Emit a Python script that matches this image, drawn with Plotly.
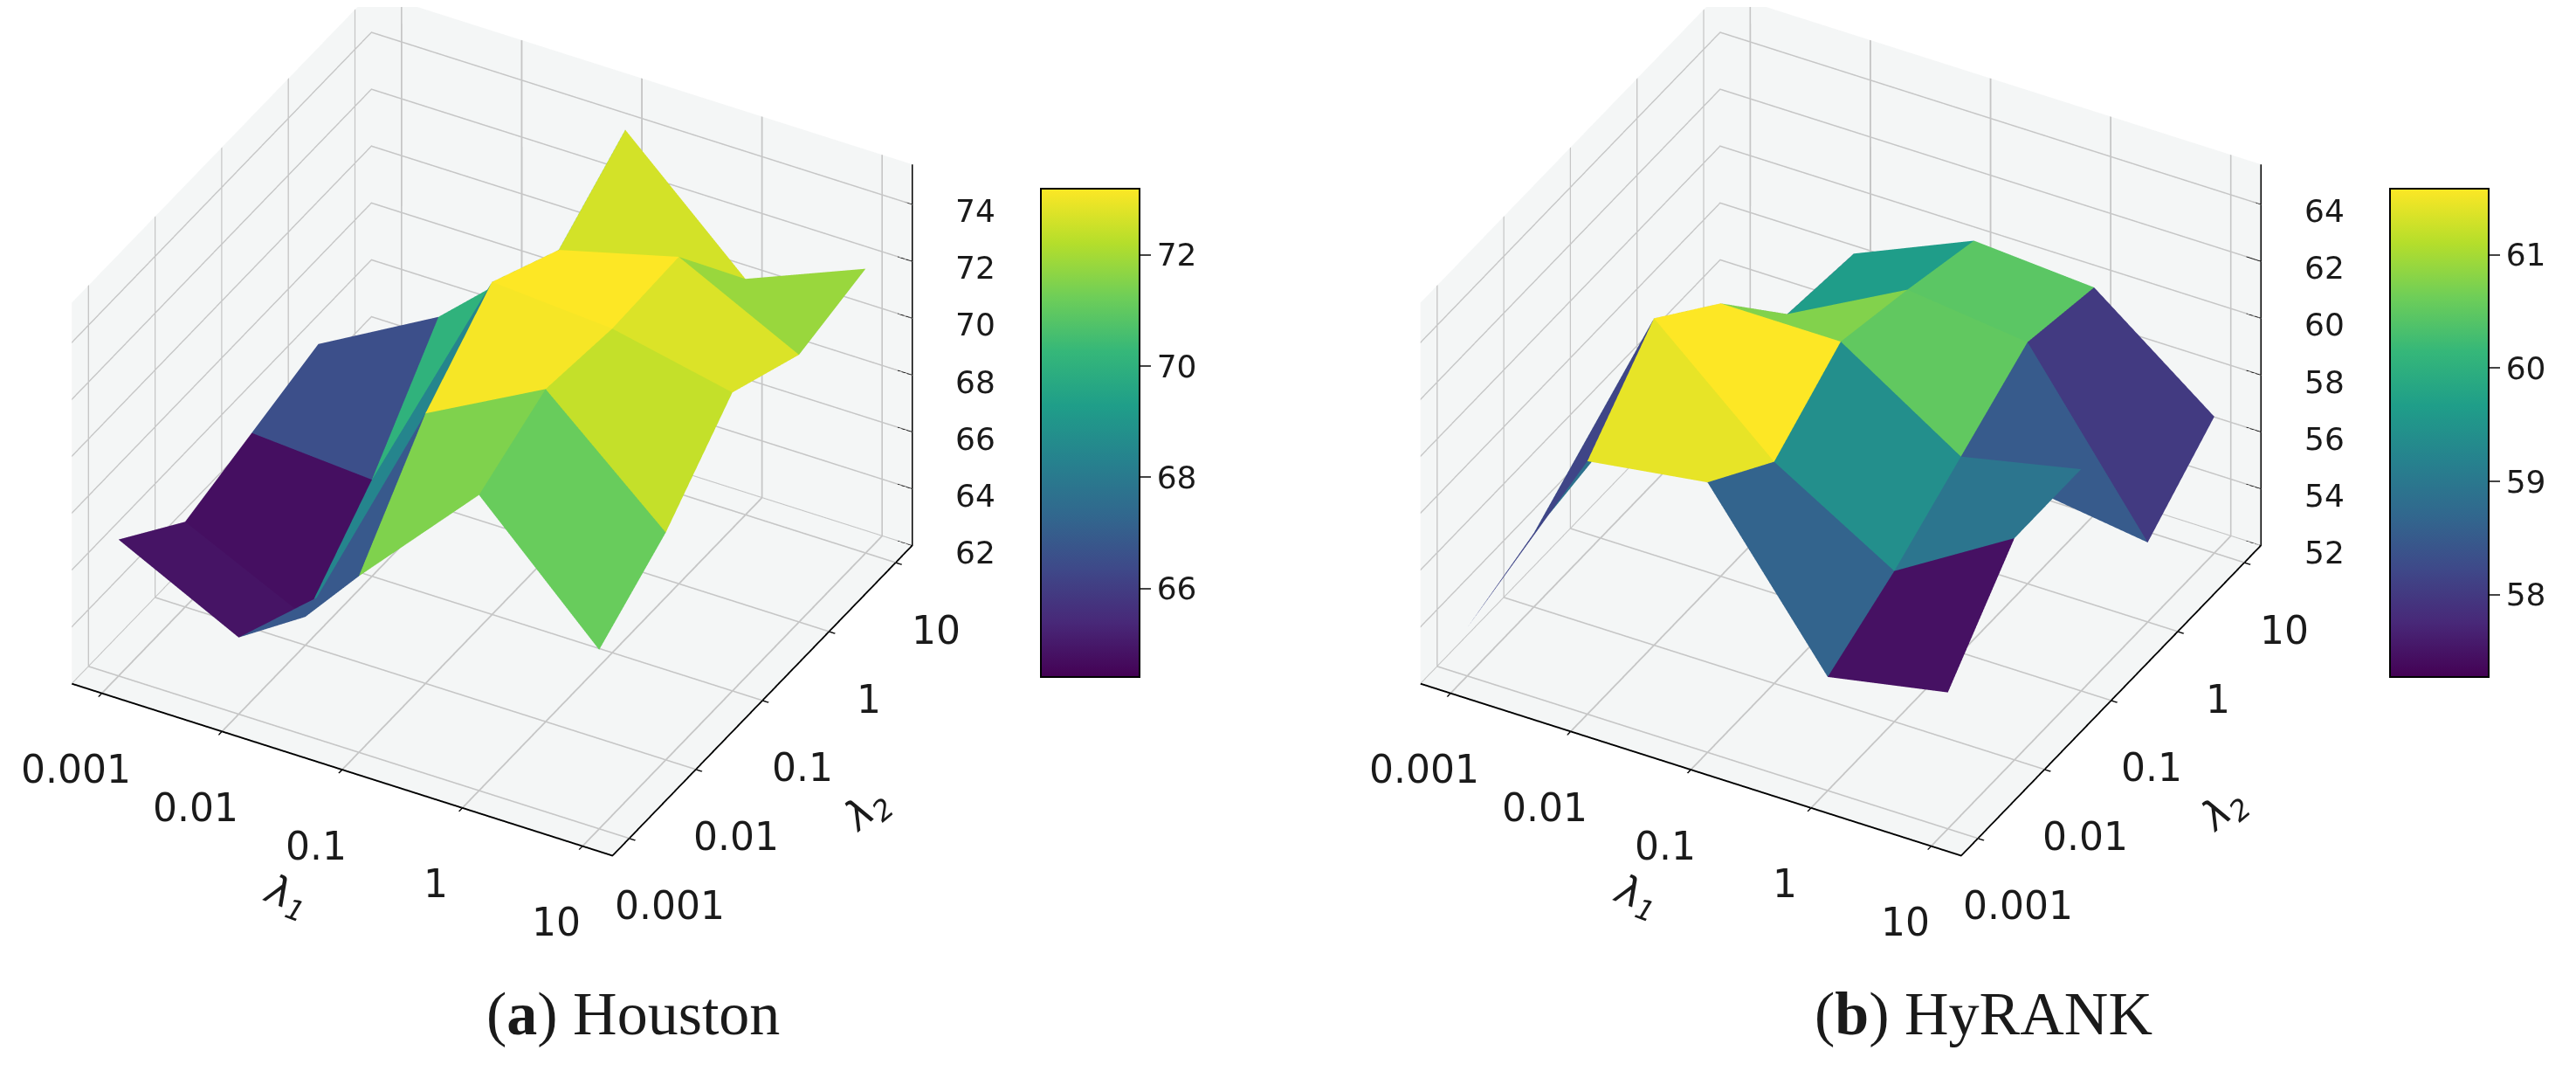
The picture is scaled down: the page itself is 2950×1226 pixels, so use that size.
import plotly.graph_objects as go
import numpy as np
import math

lambda_labels = ["0.001", "0.01", "0.1", "1", "10"]
grid_index = [0, 1, 2, 3, 4]

# rows: lambda_1, columns: lambda_2
houston = [
    [66.8, 65.0, 65.7, 66.4, 63.5],
    [64.7, 63.0, 65.4, 68.7, 63.5],
    [68.2, 71.5, 73.7, 72.4, 74.2],
    [72.4, 73.7, 73.4, 73.5, 70.3],
    [68.3, 70.0, 72.5, 71.4, 72.0],
]
hyrank = [
    [53.7, 54.6, 55.9, 52.6, 52.4],
    [60.9, 63.5, 61.6, 58.8, 58.5],
    [61.5, 59.8, 61.6, 61.0, 60.3],
    [56.0, 57.3, 58.9, 60.5, 60.0],
    [56.8, 59.8, 59.8, 54.8, 56.8],
]
houston_z_ticks = [62, 64, 66, 68, 70, 72, 74]
hyrank_z_ticks = [52, 54, 56, 58, 60, 62, 64]
houston_cbar_ticks = [66, 68, 70, 72]
hyrank_cbar_ticks = [58, 59, 60, 61]

W, H = 2950, 1226
TICK = "DejaVu Sans"
LO, HI = -0.25, 4.25
INK = "#1a1a1a"


def mesh(z_rows, cmin, cmax, scene, cbar_x, cbar_ticks):
    z = np.array(z_rows, float)
    n = len(grid_index)
    xs, ys, zs = [], [], []
    for a in range(n):
        for b in range(n):
            xs.append(grid_index[a]); ys.append(grid_index[b]); zs.append(z[a, b])
    ii, jj, kk, val = [], [], [], []
    for a in range(n - 1):
        for b in range(n - 1):
            p, q, r, s = a*n+b, (a+1)*n+b, (a+1)*n+b+1, a*n+b+1
            m = z[a:a+2, b:b+2].mean()
            # fold each cell along its lower diagonal
            if z[a, b] + z[a+1, b+1] <= z[a+1, b] + z[a, b+1]:
                ii += [p, p]; jj += [q, r]; kk += [r, s]
            else:
                ii += [p, q]; jj += [q, r]; kk += [s, s]
            val += [m, m]
    return go.Mesh3d(
        x=xs, y=ys, z=zs, i=ii, j=jj, k=kk, intensity=val, intensitymode="cell",
        colorscale="Viridis", cmin=cmin, cmax=cmax, flatshading=True, scene=scene,
        lighting=dict(ambient=1, diffuse=0, specular=0, roughness=1, fresnel=0),
        hoverinfo="skip",
        colorbar=dict(x=cbar_x/W, xanchor="left", y=0.602, yanchor="middle", len=559/H,
                      lenmode="fraction", thickness=113, thicknessmode="pixels",
                      tickvals=cbar_ticks, ticks="outside", ticklen=12, tickwidth=2,
                      outlinewidth=2, outlinecolor="black", xpad=0, ypad=0,
                      tickfont=dict(family=TICK, size=36, color=INK)),
    )


def z_axis(z_ticks, scene):
    zmin, zmax = z_ticks[0], z_ticks[0] + 13.4
    xs, ys, zs = [HI, HI, None], [HI, HI, None], [zmin, zmax, None]
    for t in z_ticks:
        xs += [HI - 0.12, HI, None]; ys += [HI, HI, None]; zs += [t, t, None]
    return go.Scatter3d(x=xs, y=ys, z=zs, mode="lines", scene=scene, showlegend=False,
                        line=dict(color="black", width=3), hoverinfo="skip")


def scene_annotations(z_ticks):
    out = []
    zmin = z_ticks[0]
    for v, t in zip(grid_index, lambda_labels):
        out.append(dict(x=v, y=LO, z=zmin, text=t, showarrow=False, xshift=-30, yshift=-87,
                        font=dict(family=TICK, size=44, color=INK)))
        out.append(dict(x=HI, y=v, z=zmin, text=t, showarrow=False, xshift=46, yshift=-77,
                        font=dict(family=TICK, size=44, color=INK)))
    for t in z_ticks:
        out.append(dict(x=HI, y=HI, z=t, text=str(t), showarrow=False, xshift=72, yshift=-8,
                        font=dict(family=TICK, size=36, color=INK)))
    return out


AZ, EL = math.radians(-61.0), math.radians(35)
SCALE = 1.155


def scene(domx, z_ticks, d, cz):
    ax = dict(showbackground=True, gridcolor="#c6c6c6", gridwidth=4, showline=True,
              linecolor="black", linewidth=4, ticks="outside", tickcolor="black",
              ticklen=8, tickwidth=3, zeroline=False, title=dict(text=""), showspikes=False,
              showticklabels=False, backgroundcolor="#f4f6f6")
    xy = dict(ax, tickvals=grid_index, range=[LO, HI])
    return dict(
        domain=dict(x=domx, y=[0.0, 1.0]),
        xaxis=xy,
        yaxis=xy,
        zaxis=dict(ax, tickvals=z_ticks, range=[z_ticks[0], z_ticks[0] + 13.4],
                   showline=False, ticks=""),
        aspectmode="manual", aspectratio=dict(x=SCALE, y=SCALE, z=0.752*SCALE),
        camera=dict(eye=dict(x=math.cos(EL)*math.cos(AZ)*d, y=math.cos(EL)*math.sin(AZ)*d,
                             z=math.sin(EL)*d + cz), up=dict(x=0, y=0, z=1),
                    center=dict(x=0, y=0, z=cz), projection=dict(type="orthographic")),
        annotations=scene_annotations(z_ticks),
    )


fig = go.Figure()
fig.add_trace(mesh(houston, 64.4, 73.18, "scene", 1184, houston_cbar_ticks))
fig.add_trace(z_axis(houston_z_ticks, "scene"))
fig.add_trace(mesh(hyrank, 57.27, 61.58, "scene2", 2729, hyrank_cbar_ticks))
fig.add_trace(z_axis(hyrank_z_ticks, "scene2"))


def label(x, y, text, angle=0, size=44, family=TICK):
    return dict(x=x/W, y=1-y/H, xref="paper", yref="paper", text=text, showarrow=False,
                textangle=angle, font=dict(family=family, size=size, color=INK),
                xanchor="center", yanchor="middle")


annotations = [
    label(319, 1018, "<i>λ<sub>1</sub></i>", 20, 46),
    label(984, 920, "<i>λ<sub>2</sub></i>", -40, 46),
    label(1865, 1018, "<i>λ<sub>1</sub></i>", 20, 46),
    label(2538, 920, "<i>λ<sub>2</sub></i>", -40, 46),
    label(717, 1152, "(<b>a</b>) Houston", 0, 70, "Liberation Serif"),
    label(2263, 1152, "(<b>b</b>) HyRANK", 0, 70, "Liberation Serif"),
]

fig.update_layout(
    width=W, height=H, autosize=False, paper_bgcolor="white", showlegend=False,
    margin=dict(l=0, r=0, t=0, b=0), annotations=annotations,
    scene=scene([0.0, 0.3766], houston_z_ticks, 2.0, -0.27),
    scene2=scene([0.515, 0.9089], hyrank_z_ticks, 2.0, -0.27),
)
fig.write_html("out.html")
